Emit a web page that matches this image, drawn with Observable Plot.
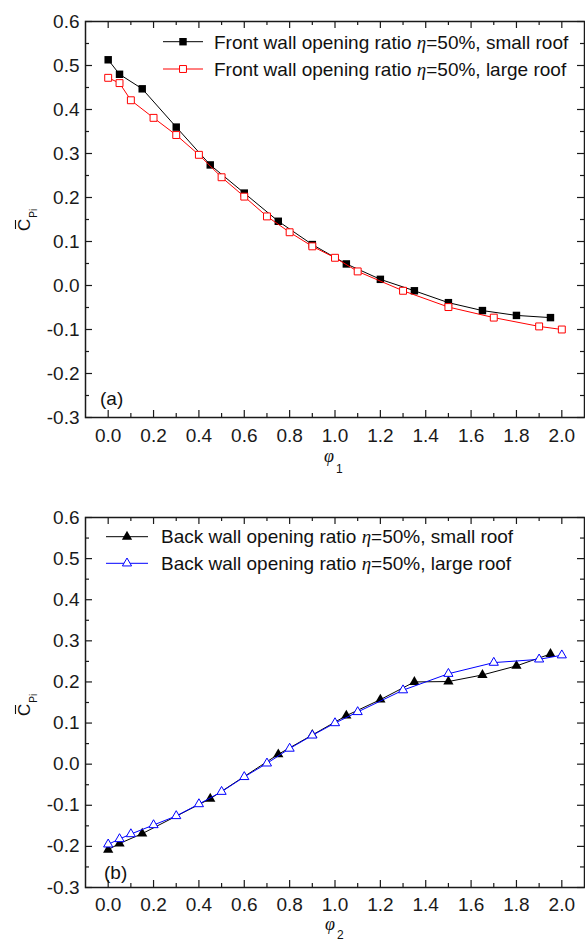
<!DOCTYPE html>
<html><head><meta charset="utf-8">
<script src="https://cdn.jsdelivr.net/npm/d3@7"></script>
<script src="https://cdn.jsdelivr.net/npm/@observablehq/plot@0.6"></script>
<style>
body{margin:0;background:#fff;}
#chart{width:585px;}
#chart svg{display:block;}
</style>
</head><body><div id="chart"></div>
<script>
// ---------- data ----------
const xA_small = [0, 0.05, 0.15, 0.3, 0.45, 0.6, 0.75, 0.9, 1.05, 1.2, 1.35, 1.5, 1.65, 1.8, 1.95];
const yA_small = [0.513, 0.480, 0.447, 0.360, 0.274, 0.210, 0.146, 0.093, 0.049, 0.014, -0.012, -0.039, -0.057, -0.068, -0.073];
const xA_large = [0, 0.05, 0.1, 0.2, 0.3, 0.4, 0.5, 0.6, 0.7, 0.8, 0.9, 1.0, 1.1, 1.3, 1.5, 1.7, 1.9, 2.0];
const yA_large = [0.472, 0.460, 0.421, 0.381, 0.342, 0.297, 0.246, 0.202, 0.157, 0.121, 0.089, 0.063, 0.032, -0.012, -0.049, -0.073, -0.093, -0.100];

const xB_small = [0, 0.05, 0.15, 0.45, 0.75, 0.9, 1.05, 1.2, 1.35, 1.5, 1.65, 1.8, 1.95];
const yB_small = [-0.208, -0.193, -0.169, -0.084, 0.024, 0.071, 0.118, 0.157, 0.200, 0.201, 0.217, 0.239, 0.268];
const xB_large = [0, 0.05, 0.1, 0.2, 0.3, 0.4, 0.5, 0.6, 0.7, 0.8, 0.9, 1.0, 1.1, 1.3, 1.5, 1.7, 1.9, 2.0];
const yB_large = [-0.195, -0.182, -0.170, -0.148, -0.126, -0.097, -0.067, -0.031, 0.002, 0.038, 0.070, 0.100, 0.127, 0.180, 0.220, 0.247, 0.255, 0.265];

const xMajor = [0, 0.2, 0.4, 0.6, 0.8, 1.0, 1.2, 1.4, 1.6, 1.8, 2.0];
const xMinor = [0.1, 0.3, 0.5, 0.7, 0.9, 1.1, 1.3, 1.5, 1.7, 1.9];
const yMajor = [-0.3, -0.2, -0.1, 0.0, 0.1, 0.2, 0.3, 0.4, 0.5, 0.6];
const yMinor = [-0.25, -0.15, -0.05, 0.05, 0.15, 0.25, 0.35, 0.45, 0.55];

const legendA = ["Front wall opening ratio ", "=50%, small roof", "=50%, large roof"];
const legendB = ["Back wall opening ratio ", "=50%, small roof", "=50%, large roof"];

const zipXY = (xs, ys) => xs.map((x, i) => ({x, y: ys[i]}));

// ---------- panel builder ----------
function panel({height, mt, mb, small, large, smallSym, largeSym, largeColor, rS, rL, tickPad}) {
  const ml = 85, mr = 1, W = 585 - ml - mr, H = height - mt - mb;
  const ink = "#1a1a1a";
  return Plot.plot({
    width: 585, height,
    marginLeft: ml, marginRight: mr, marginTop: mt, marginBottom: mb,
    x: {domain: [-0.1, 2.1], axis: null},
    y: {domain: [-0.3, 0.6], axis: null},
    style: {fontFamily: "'Liberation Sans', Arial, sans-serif", fontSize: "19px", color: ink, background: "white"},
    marks: [
      // inward ticks on all four sides
      Plot.tickX(xMajor, {x: d => d, insetTop: H - 7, stroke: ink, strokeWidth: 1.2}),
      Plot.tickX(xMajor, {x: d => d, insetBottom: H - 7, stroke: ink, strokeWidth: 1.2}),
      Plot.tickX(xMinor, {x: d => d, insetTop: H - 4, stroke: ink, strokeWidth: 1.2}),
      Plot.tickX(xMinor, {x: d => d, insetBottom: H - 4, stroke: ink, strokeWidth: 1.2}),
      Plot.tickY(yMajor, {y: d => d, insetRight: W - 7, stroke: ink, strokeWidth: 1.2}),
      Plot.tickY(yMajor, {y: d => d, insetLeft: W - 7, stroke: ink, strokeWidth: 1.2}),
      Plot.tickY(yMinor, {y: d => d, insetRight: W - 4, stroke: ink, strokeWidth: 1.2}),
      Plot.tickY(yMinor, {y: d => d, insetLeft: W - 4, stroke: ink, strokeWidth: 1.2}),
      Plot.axisX({ticks: xMajor, tickSize: 0, tickPadding: tickPad, tickFormat: d => d.toFixed(1), label: null, fill: ink}),
      Plot.axisY({ticks: yMajor, tickSize: 0, tickPadding: 6, tickFormat: d => d.toFixed(1), label: null, fill: ink}),
      // series
      Plot.line(small, {x: "x", y: "y", stroke: "black", strokeWidth: 1}),
      Plot.dot(small, {x: "x", y: "y", symbol: smallSym, r: rS, fill: "black", stroke: "none"}),
      Plot.line(large, {x: "x", y: "y", stroke: largeColor, strokeWidth: 1}),
      Plot.dot(large, {x: "x", y: "y", symbol: largeSym, r: rL, fill: "white", stroke: largeColor, strokeWidth: 1}),
      Plot.frame({stroke: ink, strokeWidth: 1.5})
    ]
  });
}

function addLegend(svg, {x0, x1, xt, rows, labels, smallSym, largeSym, largeColor, rS, rL}) {
  const g = d3.select(svg).append("g");
  const syms = [{s: smallSym, r: rS, fill: "black", stroke: "none", line: "black"},
                {s: largeSym, r: rL, fill: "white", stroke: largeColor, line: largeColor}];
  rows.forEach((row, i) => {
    const sp = syms[i];
    g.append("line").attr("x1", x0).attr("x2", x1).attr("y1", row.ly).attr("y2", row.ly)
      .attr("stroke", sp.line).attr("stroke-width", 1);
    const sym = sp.s === "square" ? d3.symbolSquare : d3.symbolTriangle;
    g.append("path").attr("d", d3.symbol(sym, Math.PI * sp.r * sp.r)())
      .attr("transform", `translate(${(x0 + x1) / 2},${row.ly})`)
      .attr("fill", sp.fill).attr("stroke", sp.stroke).attr("stroke-width", 1);
    const t = g.append("text").attr("x", xt).attr("y", row.ty)
      .attr("text-anchor", "start")
      .style("font-family", "'Liberation Sans', Arial, sans-serif").style("font-size", "19px").attr("fill", "#111");
    t.append("tspan").text(labels[0]);
    t.append("tspan").text("η").style("font-family", "'Liberation Serif', 'Times New Roman', serif").style("font-style", "italic");
    t.append("tspan").text(labels[i + 1]);
  });
}

function addLabels(svg, {tag, tagX, tagY, phiX, phiY, sub, subX, subY, cx, cy}) {
  const s = d3.select(svg);
  s.append("text").attr("x", tagX).attr("y", tagY).attr("text-anchor", "start")
    .style("font-family", "'Liberation Sans', Arial, sans-serif").style("font-size", "19px").attr("fill", "#111").text(tag);
  s.append("text").attr("x", phiX).attr("y", phiY).attr("text-anchor", "start")
    .style("font-family", "'Liberation Serif', 'Times New Roman', serif").style("font-style", "italic")
    .style("font-size", "18px").attr("fill", "#111").text("φ");
  s.append("text").attr("x", subX).attr("y", subY).attr("text-anchor", "start")
    .style("font-family", "'Liberation Sans', Arial, sans-serif").style("font-size", "12px").attr("fill", "#111").text(sub);
  // y label: C-bar with subscript Pi, rotated
  const g = s.append("g").attr("transform", `translate(${cx},${cy}) rotate(-90)`);
  const t = g.append("text").attr("x", 0).attr("y", 0).attr("text-anchor", "start")
    .style("font-family", "'Liberation Sans', Arial, sans-serif").attr("fill", "#111");
  t.append("tspan").text("C").style("font-size", "17px");
  t.append("tspan").text("Pi").style("font-size", "10px").attr("dy", 7).attr("dx", 1);
  g.append("line").attr("x1", 2).attr("x2", 11).attr("y1", -14.5).attr("y2", -14.5)
    .attr("stroke", "#111").attr("stroke-width", 1.1);
}

const root = document.getElementById("chart");

// ---------- panel (a) ----------
const optsA = {smallSym: "square", largeSym: "square", largeColor: "#ff0000", rS: 4.2, rL: 3.9};
const svgA = panel({height: 485, mt: 21, mb: 68, small: zipXY(xA_small, yA_small), large: zipXY(xA_large, yA_large), tickPad: 11, ...optsA});
addLegend(svgA, {x0: 163, x1: 203, xt: 214, rows: [{ly: 41.7, ty: 48.5}, {ly: 69, ty: 75.5}], labels: legendA, ...optsA});
addLabels(svgA, {tag: "(a)", tagX: 100, tagY: 405, phiX: 324, phiY: 462, sub: "1", subX: 336, subY: 473, cx: 30, cy: 231});
root.appendChild(svgA);

// ---------- panel (b) ----------
const optsB = {smallSym: "triangle", largeSym: "triangle", largeColor: "#0000ff", rS: 3.8, rL: 3.4};
const svgB = panel({height: 456, mt: 32, mb: 54, small: zipXY(xB_small, yB_small), large: zipXY(xB_large, yB_large), tickPad: 10, ...optsB});
addLegend(svgB, {x0: 106, x1: 148, xt: 161, rows: [{ly: 51.7, ty: 58.3}, {ly: 78.3, ty: 85}], labels: legendB, ...optsB});
addLabels(svgB, {tag: "(b)", tagX: 104, tagY: 393.5, phiX: 325, phiY: 445, sub: "2", subX: 337, subY: 454, cx: 30, cy: 231});
root.appendChild(svgB);
</script>
</body></html>
